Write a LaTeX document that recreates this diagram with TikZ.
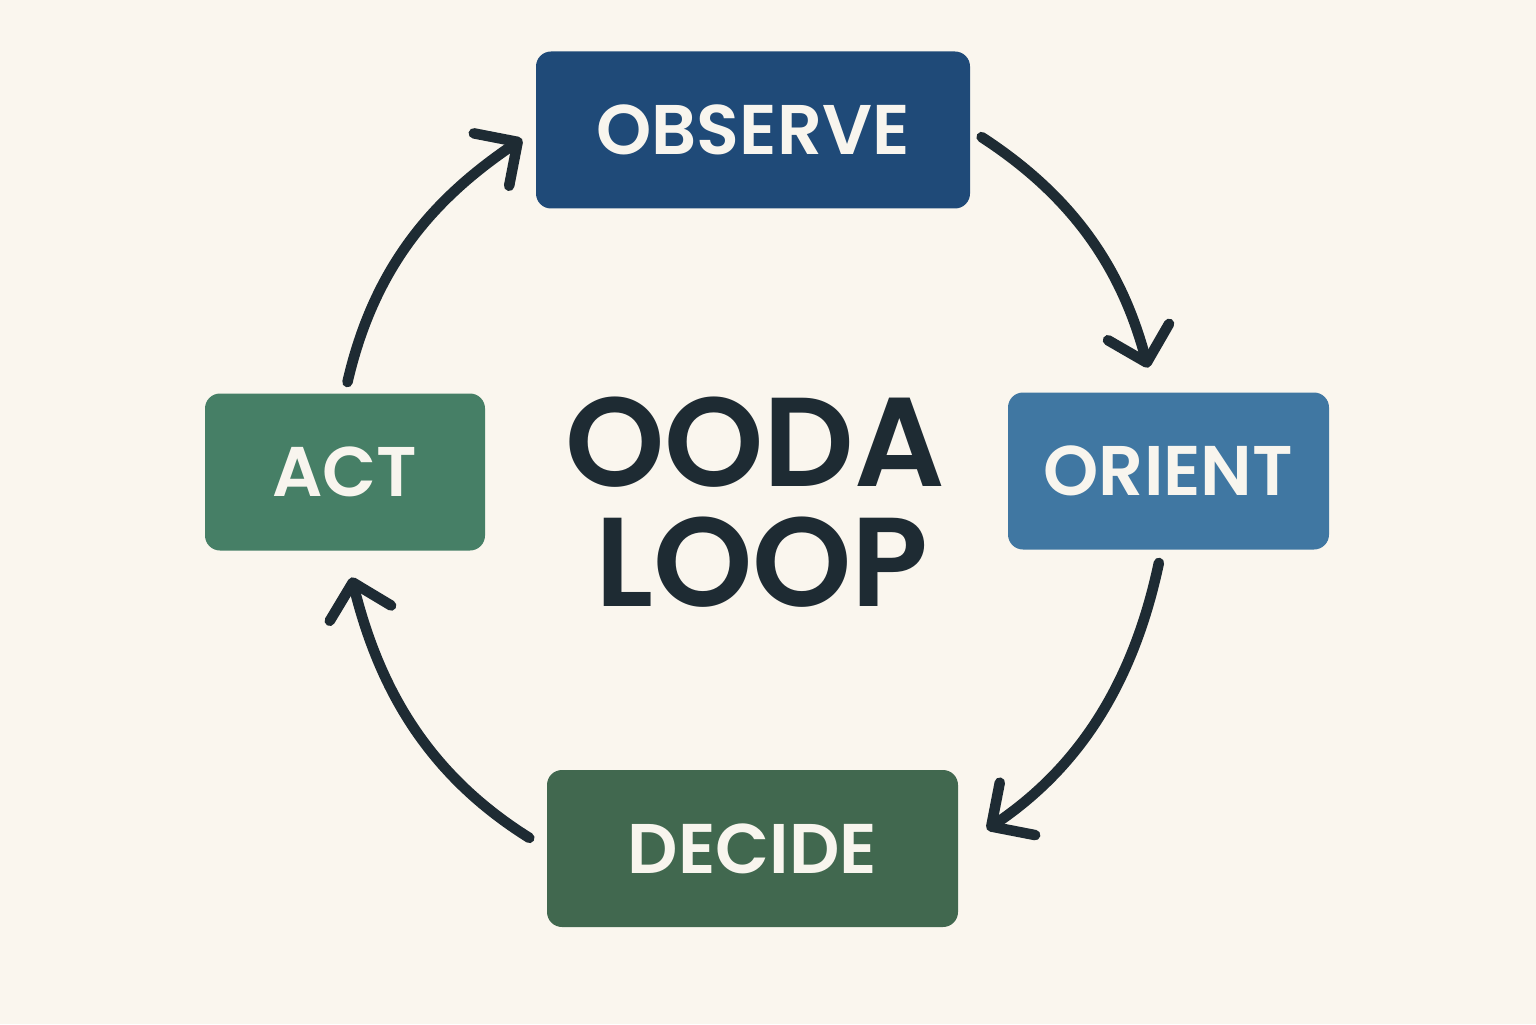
\documentclass[tikz,border=0pt]{standalone}
\usepackage{fontspec}
\newfontfamily\oodafont{Poppins}[BoldFont={Poppins SemiBold}]
\usetikzlibrary{positioning}
\usetikzlibrary{arrows.meta}
\definecolor{bgcol}{HTML}{FAF6EE}
\definecolor{inkcol}{HTML}{1E2B33}
\definecolor{txtcol}{HTML}{F8F5EE}
\definecolor{obscol}{HTML}{1F4A78}
\definecolor{oricol}{HTML}{4077A2}
\definecolor{deccol}{HTML}{41684F}
\definecolor{actcol}{HTML}{467F66}
\tikzstyle{phase}=[rectangle,rounded corners=0.15cm,draw=none,minimum height=1.57cm,inner sep=0pt,text=txtcol,font=\oodafont\bfseries\fontsize{20}{24}\selectfont]
\tikzstyle{edge} = [draw,line width=0.105cm,line cap=round,inkcol,-{Straight Barb[length=9pt,width=18pt,line cap=round,line join=round]}]
\tikzstyle{title} = [font=\oodafont\bfseries\fontsize{36}{40}\selectfont,text=inkcol,align=center]

\begin{document}
\begin{tikzpicture}

% Background
    \fill[bgcol] (0,0) rectangle (15.36,10.24);
    \useasboundingbox (0,0) rectangle (15.36,10.24);

%boxes
    \foreach \pos/\name/\label/\col/\w in {{(7.53,8.94)/observe/OBSERVE/obscol/4.34}, {(11.685,5.53)/orient/ORIENT/oricol/3.21}, {(7.525,1.755)/decide/DECIDE/deccol/4.11}, {(3.45,5.52)/act/ACT/actcol/2.80}}
        \node[phase,fill=\col,minimum width=\w cm] (\name) at \pos {\label};

% Label
    \node[title] (ooda) at (7.55,5.82) {OODA};
    \node[title] (loop) at (7.62,4.62) {LOOP};

 % Edges
    \foreach \source/\dest/\o/\i/\s/\t in {act.north/observe.west/77/214/0.11/0.16, observe.east/orient.100/-33/105/0.13/0.25, orient.-95/decide.east/-102/34/0.13/0.34, decide.west/act.south/148/-76/0.2/0.27}
        \path[edge,shorten <=\s cm,shorten >=\t cm] (\source) to[out=\o,in=\i] (\dest);

\end{tikzpicture}
\end{document}
